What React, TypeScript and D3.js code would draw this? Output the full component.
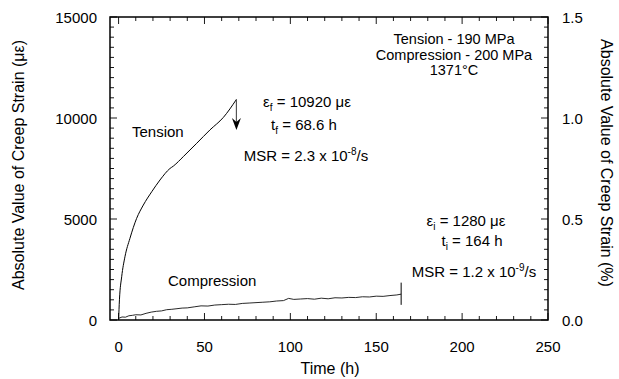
import React, { useRef, useEffect } from 'react';
import * as d3 from 'd3';

// Tension creep curve (time h, strain µε)
const tensionTime = [0, 0.5, 1.8, 3.7, 6.6, 10.5, 14.4, 19.3, 24.1, 29.9, 31.9, 37.7, 45.5, 53.2, 61, 68.6];
const tensionStrain = [0, 1000, 2140, 3130, 4040, 5030, 5690, 6350, 6930, 7500, 7620, 8090, 8750, 9410, 10030, 10920];

// Compression creep curve (time h, strain µε)
const compressionTime = [0, 2, 4, 6, 8, 10, 13, 16, 19, 22, 25, 28, 31, 34, 37, 40, 44, 48, 52, 56, 60, 64, 68, 72, 76, 80, 84, 88, 92, 96, 99, 102, 106, 110, 114, 118, 122, 126, 130, 134, 138, 142, 146, 150, 154, 158, 162, 164.5];
const compressionStrain = [80, 150, 140, 210, 230, 260, 250, 330, 390, 430, 450, 510, 530, 560, 590, 600, 650, 700, 690, 740, 760, 780, 770, 820, 840, 860, 880, 900, 940, 960, 1070, 1020, 1040, 1060, 1030, 1080, 1050, 1100, 1090, 1120, 1110, 1150, 1140, 1180, 1170, 1210, 1240, 1280];

const xTicks = [0, 50, 100, 150, 200, 250];
const yTicks = [0, 5000, 10000, 15000];
const y2Ticks = [0, 0.5, 1.0, 1.5];

const failure = { time: 68.6, strain: 10920, arrowEnd: 9400 };
const interrupt = { time: 164.5, low: 750, high: 1850 };

const FONT = '"Liberation Sans", Arial, Helvetica, sans-serif';

const CreepChart: React.FC<{ width?: number; height?: number }> = ({ width = 619, height = 379 }) => {
  const svgRef = useRef<SVGSVGElement>(null);

  useEffect(() => {
    if (!svgRef.current) return;
    document.body.style.margin = '0';
    const svg = d3.select(svgRef.current);
    svg.selectAll('*').remove();

    const left = 110, right = 548, top = 17, bottom = 320;

    const x = d3.scaleLinear().domain([-5, 250]).range([left, right]);
    const y = d3.scaleLinear().domain([0, 15000]).range([bottom, top]);
    const y2 = d3.scaleLinear().domain([0, 1.5]).range([bottom, top]);

    const g = svg.append('g');

    // Minor / major ticks, all pointing inward
    d3.range(0, 251, 10).forEach(v => {
      const len = v % 50 === 0 ? 7 : 4;
      g.append('line').attr('x1', x(v)).attr('x2', x(v)).attr('y1', bottom).attr('y2', bottom - len)
        .attr('stroke', '#000').attr('stroke-width', 0.9);
      g.append('line').attr('x1', x(v)).attr('x2', x(v)).attr('y1', top).attr('y2', top + len)
        .attr('stroke', '#000').attr('stroke-width', 0.9);
    });
    d3.range(0, 15001, 500).forEach(v => {
      const len = v % 5000 === 0 ? 7 : 4;
      g.append('line').attr('x1', left).attr('x2', left + len).attr('y1', y(v)).attr('y2', y(v))
        .attr('stroke', '#000').attr('stroke-width', 0.9);
    });
    d3.range(0, 31).forEach(i => {
      const v = i * 0.05;
      const len = i % 10 === 0 ? 7 : 4;
      g.append('line').attr('x1', right).attr('x2', right - len).attr('y1', y2(v)).attr('y2', y2(v))
        .attr('stroke', '#000').attr('stroke-width', 0.9);
    });

    // Frame
    g.append('rect')
      .attr('x', left).attr('y', top)
      .attr('width', right - left).attr('height', bottom - top)
      .attr('fill', 'none').attr('stroke', '#000').attr('stroke-width', 1.5);

    // Tick labels
    xTicks.forEach(v => {
      g.append('text').attr('x', x(v)).attr('y', 352).attr('text-anchor', 'middle')
        .attr('font-size', '15px').attr('font-family', FONT).text(String(v));
    });
    yTicks.forEach(v => {
      g.append('text').attr('x', 97).attr('y', y(v) + 6).attr('text-anchor', 'end')
        .attr('font-size', '15px').attr('font-family', FONT).text(String(v));
    });
    y2Ticks.forEach(v => {
      g.append('text').attr('x', 562).attr('y', y2(v) + 6).attr('text-anchor', 'start')
        .attr('font-size', '15px').attr('font-family', FONT).text(v.toFixed(1));
    });

    // Axis titles
    g.append('text').attr('x', 330).attr('y', 374).attr('text-anchor', 'middle')
      .attr('font-size', '16px').attr('font-family', FONT).text('Time (h)');
    g.append('text').attr('transform', 'translate(24,165) rotate(-90)').attr('text-anchor', 'middle')
      .attr('font-size', '16px').attr('font-family', FONT).text('Absolute Value of Creep Strain (\u03BC\u03B5)');
    g.append('text').attr('transform', 'translate(601,163) rotate(90)').attr('text-anchor', 'middle')
      .attr('font-size', '16px').attr('font-family', FONT).text('Absolute Value of Creep Strain (%)');

    // Curves
    const tensionLine = d3.line<[number, number]>().x(d => x(d[0])).y(d => y(d[1])).curve(d3.curveMonotoneX);
    const line = d3.line<[number, number]>().x(d => x(d[0])).y(d => y(d[1]));
    const tension = tensionTime.map((t, i) => [t, tensionStrain[i]] as [number, number]);
    const compression = compressionTime.map((t, i) => [t, compressionStrain[i]] as [number, number]);

    g.append('path').datum(tension).attr('d', tensionLine)
      .attr('fill', 'none').attr('stroke', '#000').attr('stroke-width', 1);
    g.append('path').datum(compression).attr('d', line)
      .attr('fill', 'none').attr('stroke', '#111').attr('stroke-width', 0.9);

    // Failure arrow
    const ax = x(failure.time);
    g.append('line').attr('x1', ax).attr('x2', ax)
      .attr('y1', y(failure.strain)).attr('y2', y(failure.arrowEnd) - 4)
      .attr('stroke', '#555').attr('stroke-width', 1.2);
    const tip = y(failure.arrowEnd);
    g.append('path')
      .attr('d', `M${ax - 4.5},${tip - 12} L${ax},${tip} L${ax + 4.5},${tip - 12} L${ax},${tip - 8} Z`)
      .attr('fill', '#000');

    // Interruption marker
    g.append('line').attr('x1', x(interrupt.time)).attr('x2', x(interrupt.time))
      .attr('y1', y(interrupt.high)).attr('y2', y(interrupt.low))
      .attr('stroke', '#000').attr('stroke-width', 1);

    // Curve labels
    g.append('text').attr('x', 132).attr('y', 137).attr('font-size', '15px').attr('font-family', FONT).text('Tension');
    g.append('text').attr('x', 168).attr('y', 286).attr('font-size', '15px').attr('font-family', FONT).text('Compression');

    // Helper for annotation lines with sub/superscripts
    const addRich = (cx: number, by: number, parts: { t: string; s?: 'sub' | 'sup' }[]) => {
      const txt = g.append('text').attr('x', cx).attr('y', by).attr('text-anchor', 'middle')
        .attr('font-size', '15px').attr('font-family', FONT);
      let shift = 0;
      parts.forEach(p => {
        const target = p.s === 'sub' ? 4 : p.s === 'sup' ? -6 : 0;
        const ts = txt.append('tspan').attr('dy', target - shift).text(p.t);
        if (p.s) ts.attr('font-size', '10px');
        shift = target;
      });
    };

    addRich(307, 107, [{ t: '\u03B5' }, { t: 'f', s: 'sub' }, { t: ' = 10920 \u03BC\u03B5' }]);
    addRich(304, 130, [{ t: 't' }, { t: 'f', s: 'sub' }, { t: ' = 68.6 h' }]);
    addRich(306, 161, [{ t: 'MSR = 2.3 x 10' }, { t: '-8', s: 'sup' }, { t: '/s' }]);

    addRich(466, 226, [{ t: '\u03B5' }, { t: 'i', s: 'sub' }, { t: ' = 1280 \u03BC\u03B5' }]);
    addRich(472, 246, [{ t: 't' }, { t: 'i', s: 'sub' }, { t: ' = 164 h' }]);
    addRich(474, 277, [{ t: 'MSR = 1.2 x 10' }, { t: '-9', s: 'sup' }, { t: '/s' }]);

    // Test conditions
    ['Tension - 190 MPa', 'Compression - 200 MPa', '1371\u00B0C'].forEach((s, i) => {
      g.append('text').attr('x', 454).attr('y', 44 + i * 15.5).attr('text-anchor', 'middle')
        .attr('font-size', '14.5px').attr('font-family', FONT).text(s);
    });
  }, [width, height]);

  return <svg ref={svgRef} width={width} height={height} style={{ display: 'block', background: '#fff' }} />;
};

export default function App() {
  return <CreepChart />;
}
